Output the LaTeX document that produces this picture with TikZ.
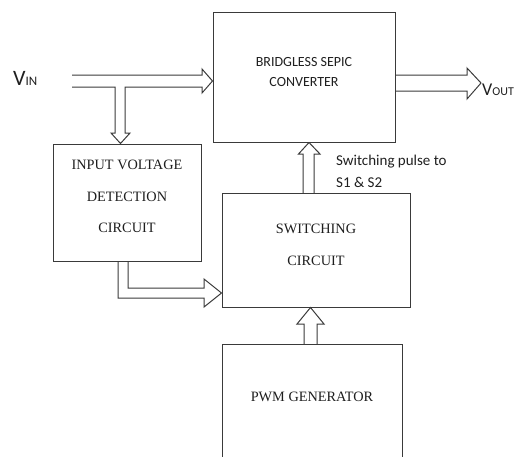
\documentclass[tikz,border=0pt]{standalone}
\usepackage{fontspec}
\setmainfont{Liberation Serif}
\newfontfamily\calib{Carlito}
\usetikzlibrary{positioning,calc}
\definecolor{linegray}{HTML}{3A3A3A}
\definecolor{txtgray}{HTML}{1E1E1E}
\tikzset{
  blk/.style={draw=linegray, line width=1pt, inner sep=0pt},
  blktxt/.style={align=center, text=txtgray, inner sep=0pt},
  hollow/.style={draw=linegray, line width=1pt, line join=miter},
  sanstxt/.style={text=black!88, inner sep=0pt, font=\calib},
}
\begin{document}
\begin{tikzpicture}[x=1pt,y=-1pt]
  \useasboundingbox (0,0) rectangle (521,456);
  \clip (0,0) rectangle (521,456);
  % blocks
  \node[blk, minimum width=182, minimum height=130] (conv) at (304,77) {};
  \node[blk, minimum width=148, minimum height=117] (det) at (127,202.5) {};
  \node[blk, minimum width=188, minimum height=114] (sw) at (316,250) {};
  \node[blk, minimum width=180, minimum height=126] (pwm) at (312,407) {};
  % block texts
  \node[sanstxt, align=center, font=\calib\fontsize{14}{20}\selectfont] (convtxt) at (304,72) {BRIDGLESS SEPIC\\CONVERTER};
  \node[blktxt, font=\fontsize{14.3}{31.5}\selectfont] (dettxt) at (127,196.5) {INPUT VOLTAGE\\DETECTION\\CIRCUIT};
  \node[blktxt, font=\fontsize{14.3}{32}\selectfont] (swtxt) at (316,245) {SWITCHING\\CIRCUIT};
  \node[blktxt, font=\fontsize{14.3}{14}\selectfont] (pwmtxt) at (312,397) {PWM GENERATOR};
  % axes of the hollow arrows
  \coordinate (vin) at (72,81);
  \coordinate (branch) at (120.5,87);
  \coordinate (upax) at (309,193);
  \coordinate (pwmax) at (310.5,344);
  \coordinate (vout) at (481,83);
  % V_in to converter, with branch down to detection
  \draw[hollow] (72,75) -- (202,75) -- (202,69) -- (conv.west |- vin) -- (202,93) -- (202,87)
    -- (125,87) -- (125,133) -- (130,133) -- (branch |- det.north) -- (111,133) -- (115,133)
    -- (115,87) -- (72,87);
  % detection to switching
  \draw[hollow] (118,261) -- (118,298) -- (204,298) -- (204,307) -- (sw.west |- 0,293)
    -- (204,279) -- (204,288) -- (128,288) -- (128,261);
  % switching to converter
  \draw[hollow] (303,193) -- (303,154) -- (298.5,154) -- (upax |- conv.south) -- (320,154)
    -- (314,154) -- (314,193);
  % pwm to switching
  \draw[hollow] (304,344) -- (304,324) -- (297,324) -- (pwmax |- sw.south) -- (324,324)
    -- (317,324) -- (317,344);
  % converter to V_out
  \draw[hollow] (395,75) -- (467,75) -- (467,68) -- (vout) -- (467,99) -- (467,91) -- (395,91);
  % labels
  \node[sanstxt, anchor=base west, font=\calib\fontsize{22}{22}\selectfont] (vinlbl) at (13,85)
    {V{\fontsize{13}{13}\selectfont IN}};
  \node[sanstxt, anchor=base west, font=\calib\fontsize{18}{18}\selectfont] (voutlbl) at (482,95)
    {V{\fontsize{12}{12}\selectfont OUT}};
  \node[sanstxt, anchor=north west, align=left, font=\calib\fontsize{15}{22}\selectfont] (pulselbl)
    at (336,154.5) {Switching pulse to\\S1 \& S2};
\end{tikzpicture}
\end{document}
